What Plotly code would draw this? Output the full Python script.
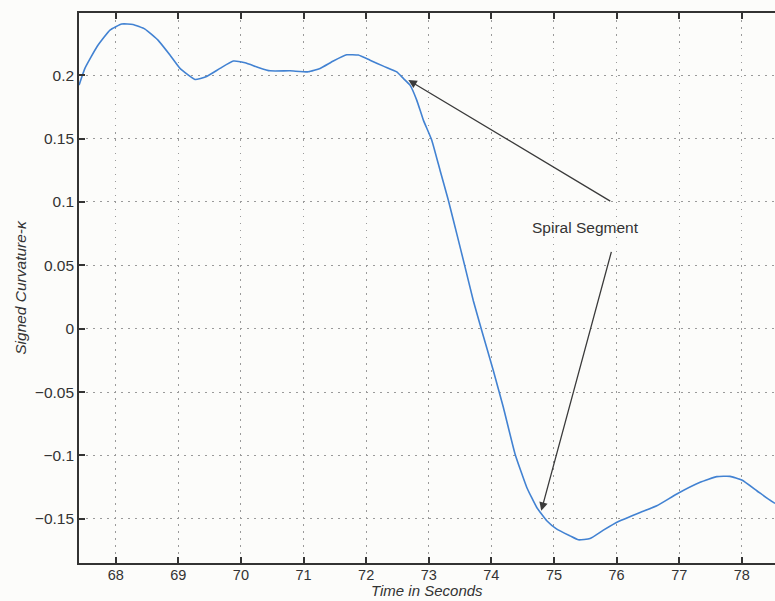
import plotly.graph_objects as go

# Signed curvature trace sampled along the run
time_s = [67.415, 67.510, 67.701, 67.909, 68.096, 68.276, 68.468, 68.676, 68.867,
          69.027, 69.267, 69.442, 69.666, 69.879, 70.066, 70.278, 70.465, 70.784,
          71.077, 71.264, 71.476, 71.690, 71.875, 72.062, 72.275, 72.489, 72.594,
          72.701, 72.808, 72.914, 73.048, 73.180, 73.313, 73.447, 73.580, 73.712,
          73.847, 74.032, 74.192, 74.378, 74.566, 74.725, 74.885, 75.045, 75.257,
          75.390, 75.576, 75.789, 76.029, 76.375, 76.642, 76.962, 77.334, 77.601,
          77.813, 78.000, 78.240, 78.425, 78.532]
curvature = [0.1921, 0.2055, 0.2224, 0.2355, 0.2403, 0.2400, 0.2363, 0.2276, 0.2158,
             0.2053, 0.1966, 0.1987, 0.2053, 0.2111, 0.2097, 0.2061, 0.2034, 0.2034,
             0.2026, 0.2053, 0.2111, 0.2160, 0.2158, 0.2118, 0.2071, 0.2026, 0.1974,
             0.1921, 0.1803, 0.1645, 0.1487, 0.1250, 0.1013, 0.0750, 0.0486, 0.0221,
             -0.0016, -0.0332, -0.0622, -0.0988, -0.1252, -0.1410, -0.1515, -0.1581, -0.1634,
             -0.1665, -0.1655, -0.1589, -0.1521, -0.1449, -0.1397, -0.1304, -0.1212, -0.1167,
             -0.1165, -0.1194, -0.1278, -0.1344, -0.1378]

x_ticks = [68, 69, 70, 71, 72, 73, 74, 75, 76, 77, 78]
y_ticks = [-0.15, -0.1, -0.05, 0, 0.05, 0.1, 0.15, 0.2]
y_tick_text = ["\u22120.15", "\u22120.1", "\u22120.05", "0", "0.05", "0.1", "0.15", "0.2"]

# Spiral segment: start and end of the transition, label position
spiral_start = (72.674, 0.1961)
spiral_end = (74.797, -0.1436)
label_pos = (75.51, 0.0799)
arrow_tail_upper = (75.923, 0.0999)
arrow_tail_lower = (75.923, 0.0618)

font_family = "Liberation Sans, Arial, sans-serif"
ink = "#333333"

fig = go.Figure()
fig.add_trace(go.Scatter(
    x=time_s, y=curvature, mode="lines",
    line=dict(color="#4282d2", width=1.6, shape="spline", smoothing=0.4),
    showlegend=False, hoverinfo="skip",
))

arrow_style = dict(
    text="", showarrow=True, arrowhead=2, arrowsize=1.3, arrowwidth=1.3,
    arrowcolor="#3a3a3a", xref="x", yref="y", axref="x", ayref="y",
)
fig.add_annotation(x=spiral_start[0], y=spiral_start[1],
                   ax=arrow_tail_upper[0], ay=arrow_tail_upper[1], **arrow_style)
fig.add_annotation(x=spiral_end[0], y=spiral_end[1],
                   ax=arrow_tail_lower[0], ay=arrow_tail_lower[1], **arrow_style)
fig.add_annotation(x=label_pos[0], y=label_pos[1], text="Spiral Segment",
                   showarrow=False, xref="x", yref="y",
                   font=dict(family=font_family, size=15.5, color=ink))

# x-axis title sits just under the tick labels, flush with the bottom edge
fig.add_annotation(x=0.5, y=0, xref="paper", yref="paper", yshift=-38,
                   xanchor="center", yanchor="bottom", showarrow=False,
                   text="<i>Time in Seconds</i>",
                   font=dict(family=font_family, size=15, color=ink))

grid = dict(showgrid=True, gridcolor="#9a9a9a", gridwidth=1.3, griddash="1.5px,5.5px")

fig.update_xaxes(
    range=[67.414, 78.53], tickvals=x_ticks, ticktext=[str(t) for t in x_ticks],
    ticks="inside", ticklen=6, tickwidth=1.5, tickcolor="#333",
    showline=True, linecolor="#333", linewidth=1.6, mirror="ticks",
    zeroline=False, ticklabelstandoff=-2,
    tickfont=dict(family=font_family, size=14.5, color=ink),
    **grid,
)
fig.update_yaxes(
    range=[-0.1848, 0.249], tickvals=y_ticks, ticktext=y_tick_text,
    ticks="inside", ticklen=6, tickwidth=1.5, tickcolor="#333",
    showline=True, linecolor="#333", linewidth=1.6, mirror=False,
    zeroline=False,
    tickfont=dict(family=font_family, size=15.5, color=ink),
    title=dict(text="<i>Signed Curvature-\u03ba</i>", standoff=4,
               font=dict(family=font_family, size=15.5, color=ink)),
    **grid,
)

fig.update_layout(
    width=775, height=601,
    margin=dict(l=79, r=0, t=13, b=38),
    paper_bgcolor="#fcfcfa", plot_bgcolor="#fcfcfa",
)

fig.write_html("out.html")
